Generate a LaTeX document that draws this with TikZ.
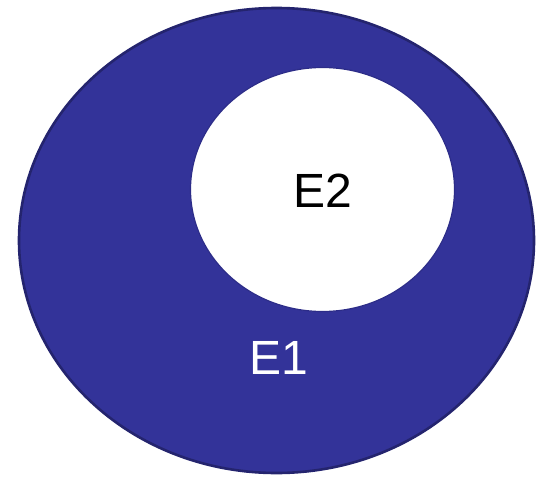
\documentclass[tikz,border=0pt]{standalone}
\usepackage{fontspec}
\setmainfont{Liberation Sans}
\definecolor{setfill}{HTML}{333399}
\definecolor{setedge}{HTML}{24246E}
\definecolor{inneredge}{HTML}{2C2C88}
\tikzset{
  outerset/.style={fill=setfill, draw=setedge, line width=2.6pt},
  innerset/.style={fill=white, draw=inneredge, line width=1.2pt},
  setlabel/.style={inner sep=0pt, font=\fontsize{48}{48}\selectfont}
}
\begin{document}
\begin{tikzpicture}[x=1pt,y=-1pt]
\useasboundingbox (0,0) rectangle (537,476);
\path[outerset] (276.5,240.5) ellipse [x radius=257.5, y radius=232.5];
\path[innerset] (322.5,189.5) ellipse [x radius=132, y radius=122];
\node[setlabel, text=black] (e2) at (322.5,190.5) {E2};
\node[setlabel, text=white] (e1) at (279,358) {E1};
\end{tikzpicture}
\end{document}
